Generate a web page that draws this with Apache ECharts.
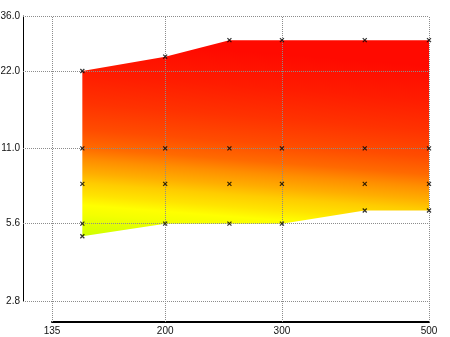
<!DOCTYPE html>
<html>
<head>
<meta charset="utf-8">
<script src="https://cdn.jsdelivr.net/npm/echarts@6/dist/echarts.min.js"></script>
<style>
  html, body { margin: 0; padding: 0; background: #fff; }
  #chart { width: 450px; height: 337px; }
</style>
</head>
<body>
<div id="chart"></div>
<script>
// axis ticks
const xTicks = [135, 200, 300, 500]
const yTicks = [2.8, 5.6, 11, 22, 36]

// envelope of the filled region
const xs = [150, 200, 250, 300, 400, 500]
const upper = [22, 25, 29, 29, 29, 29]
const lower = [5, 5.6, 5.6, 5.6, 6.3, 6.3]

// sample points (x markers)
const sampleX = [150, 150, 150, 150, 150, 200, 200, 200, 200, 250, 250, 250, 250,
  300, 300, 300, 300, 400, 400, 400, 400, 500, 500, 500, 500]
const sampleY = [22, 11, 8, 5.6, 5, 25, 11, 8, 5.6, 29, 11, 8, 5.6,
  29, 11, 8, 5.6, 29, 11, 8, 6.3, 29, 11, 8, 6.3]

const labelFont = { fontSize: 10, color: '#111', fontFamily: 'Liberation Sans' }
const dotted = { color: '#8c8c8c', type: [1, 1], width: 1 }

const chart = echarts.init(document.getElementById('chart'))

chart.setOption({
  animation: false,
  grid: { left: 52, right: 21, top: 16, bottom: 36, outerBoundsMode: 'none', containLabel: false },
  xAxis: [{
    type: 'log', min: 135, max: 500, show: false
  }, {
    type: 'value',
    position: 'bottom',
    offset: 21,
    z: 5,
    min: Math.log10(135),
    max: Math.log10(500),
    axisLine: { show: true, lineStyle: { color: '#000', width: 2 } },
    axisTick: { show: true, inside: true, length: 306, customValues: xTicks.map(Math.log10), lineStyle: dotted },
    axisLabel: Object.assign({
      margin: 4,
      customValues: xTicks.map(Math.log10),
      formatter: v => String(Math.round(Math.pow(10, v)))
    }, labelFont),
    splitLine: { show: false }
  }],
  yAxis: [{
    type: 'log', min: 2.8, max: 36, show: false
  }, {
    type: 'value',
    position: 'left',
    offset: 29,
    z: 5,
    min: Math.log10(2.8),
    max: Math.log10(36),
    axisLine: { show: true, lineStyle: { color: '#000', width: 1 } },
    axisTick: { show: true, inside: true, length: 406, customValues: yTicks.map(Math.log10), lineStyle: dotted },
    axisLabel: Object.assign({
      margin: 3,
      customValues: yTicks.map(Math.log10),
      formatter: v => Math.pow(10, v).toFixed(1)
    }, labelFont),
    splitLine: { show: false }
  }],
  series: [{
    type: 'custom',
    xAxisIndex: 0,
    yAxisIndex: 0,
    z: 1,
    silent: true,
    data: xs.map((x, i) => [x, upper[i], lower[i]]),
    encode: { x: 0, y: [1, 2] },
    renderItem: function(params, api) {
      if (params.dataIndex !== 0) return null
      const top = xs.map((x, i) => api.coord([x, upper[i]]))
      const bot = xs.map((x, i) => api.coord([x, lower[i]])).reverse()
      const pts = top.concat(bot)
      const xl = top[0][0]
      const yTop = Math.min.apply(null, top.map(p => p[1]))
      const yBot = Math.max.apply(null, bot.map(p => p[1])) + 4
      const fill = new echarts.graphic.LinearGradient(
        xl, yBot, xl + 0.0776 * (yBot - yTop), yTop, [
          { offset: 0.0, color: '#c8ff00' },
          { offset: 0.085, color: '#e2ff00' },
          { offset: 0.13, color: '#f4ff00' },
          { offset: 0.175, color: '#ffff00' },
          { offset: 0.225, color: '#ffe400' },
          { offset: 0.285, color: '#ffcc00' },
          { offset: 0.335, color: '#ffae00' },
          { offset: 0.40, color: '#ff8e00' },
          { offset: 0.46, color: '#ff6a00' },
          { offset: 0.55, color: '#ff4c00' },
          { offset: 0.68, color: '#ff3200' },
          { offset: 0.83, color: '#ff1c00' },
          { offset: 1.0, color: '#ff0a00' }
        ], true)
      return { type: 'polygon', shape: { points: pts }, style: { fill: fill } }
    }
  }, {
    type: 'scatter',
    xAxisIndex: 0,
    yAxisIndex: 0,
    z: 10,
    silent: true,
    symbol: 'path://M0,0L10,10M10,0L0,10',
    symbolSize: 4,
    itemStyle: { color: 'none', borderColor: '#000', borderWidth: 1.2 },
    data: sampleX.map((x, i) => [x, sampleY[i]])
  }]
})
</script>
</body>
</html>
